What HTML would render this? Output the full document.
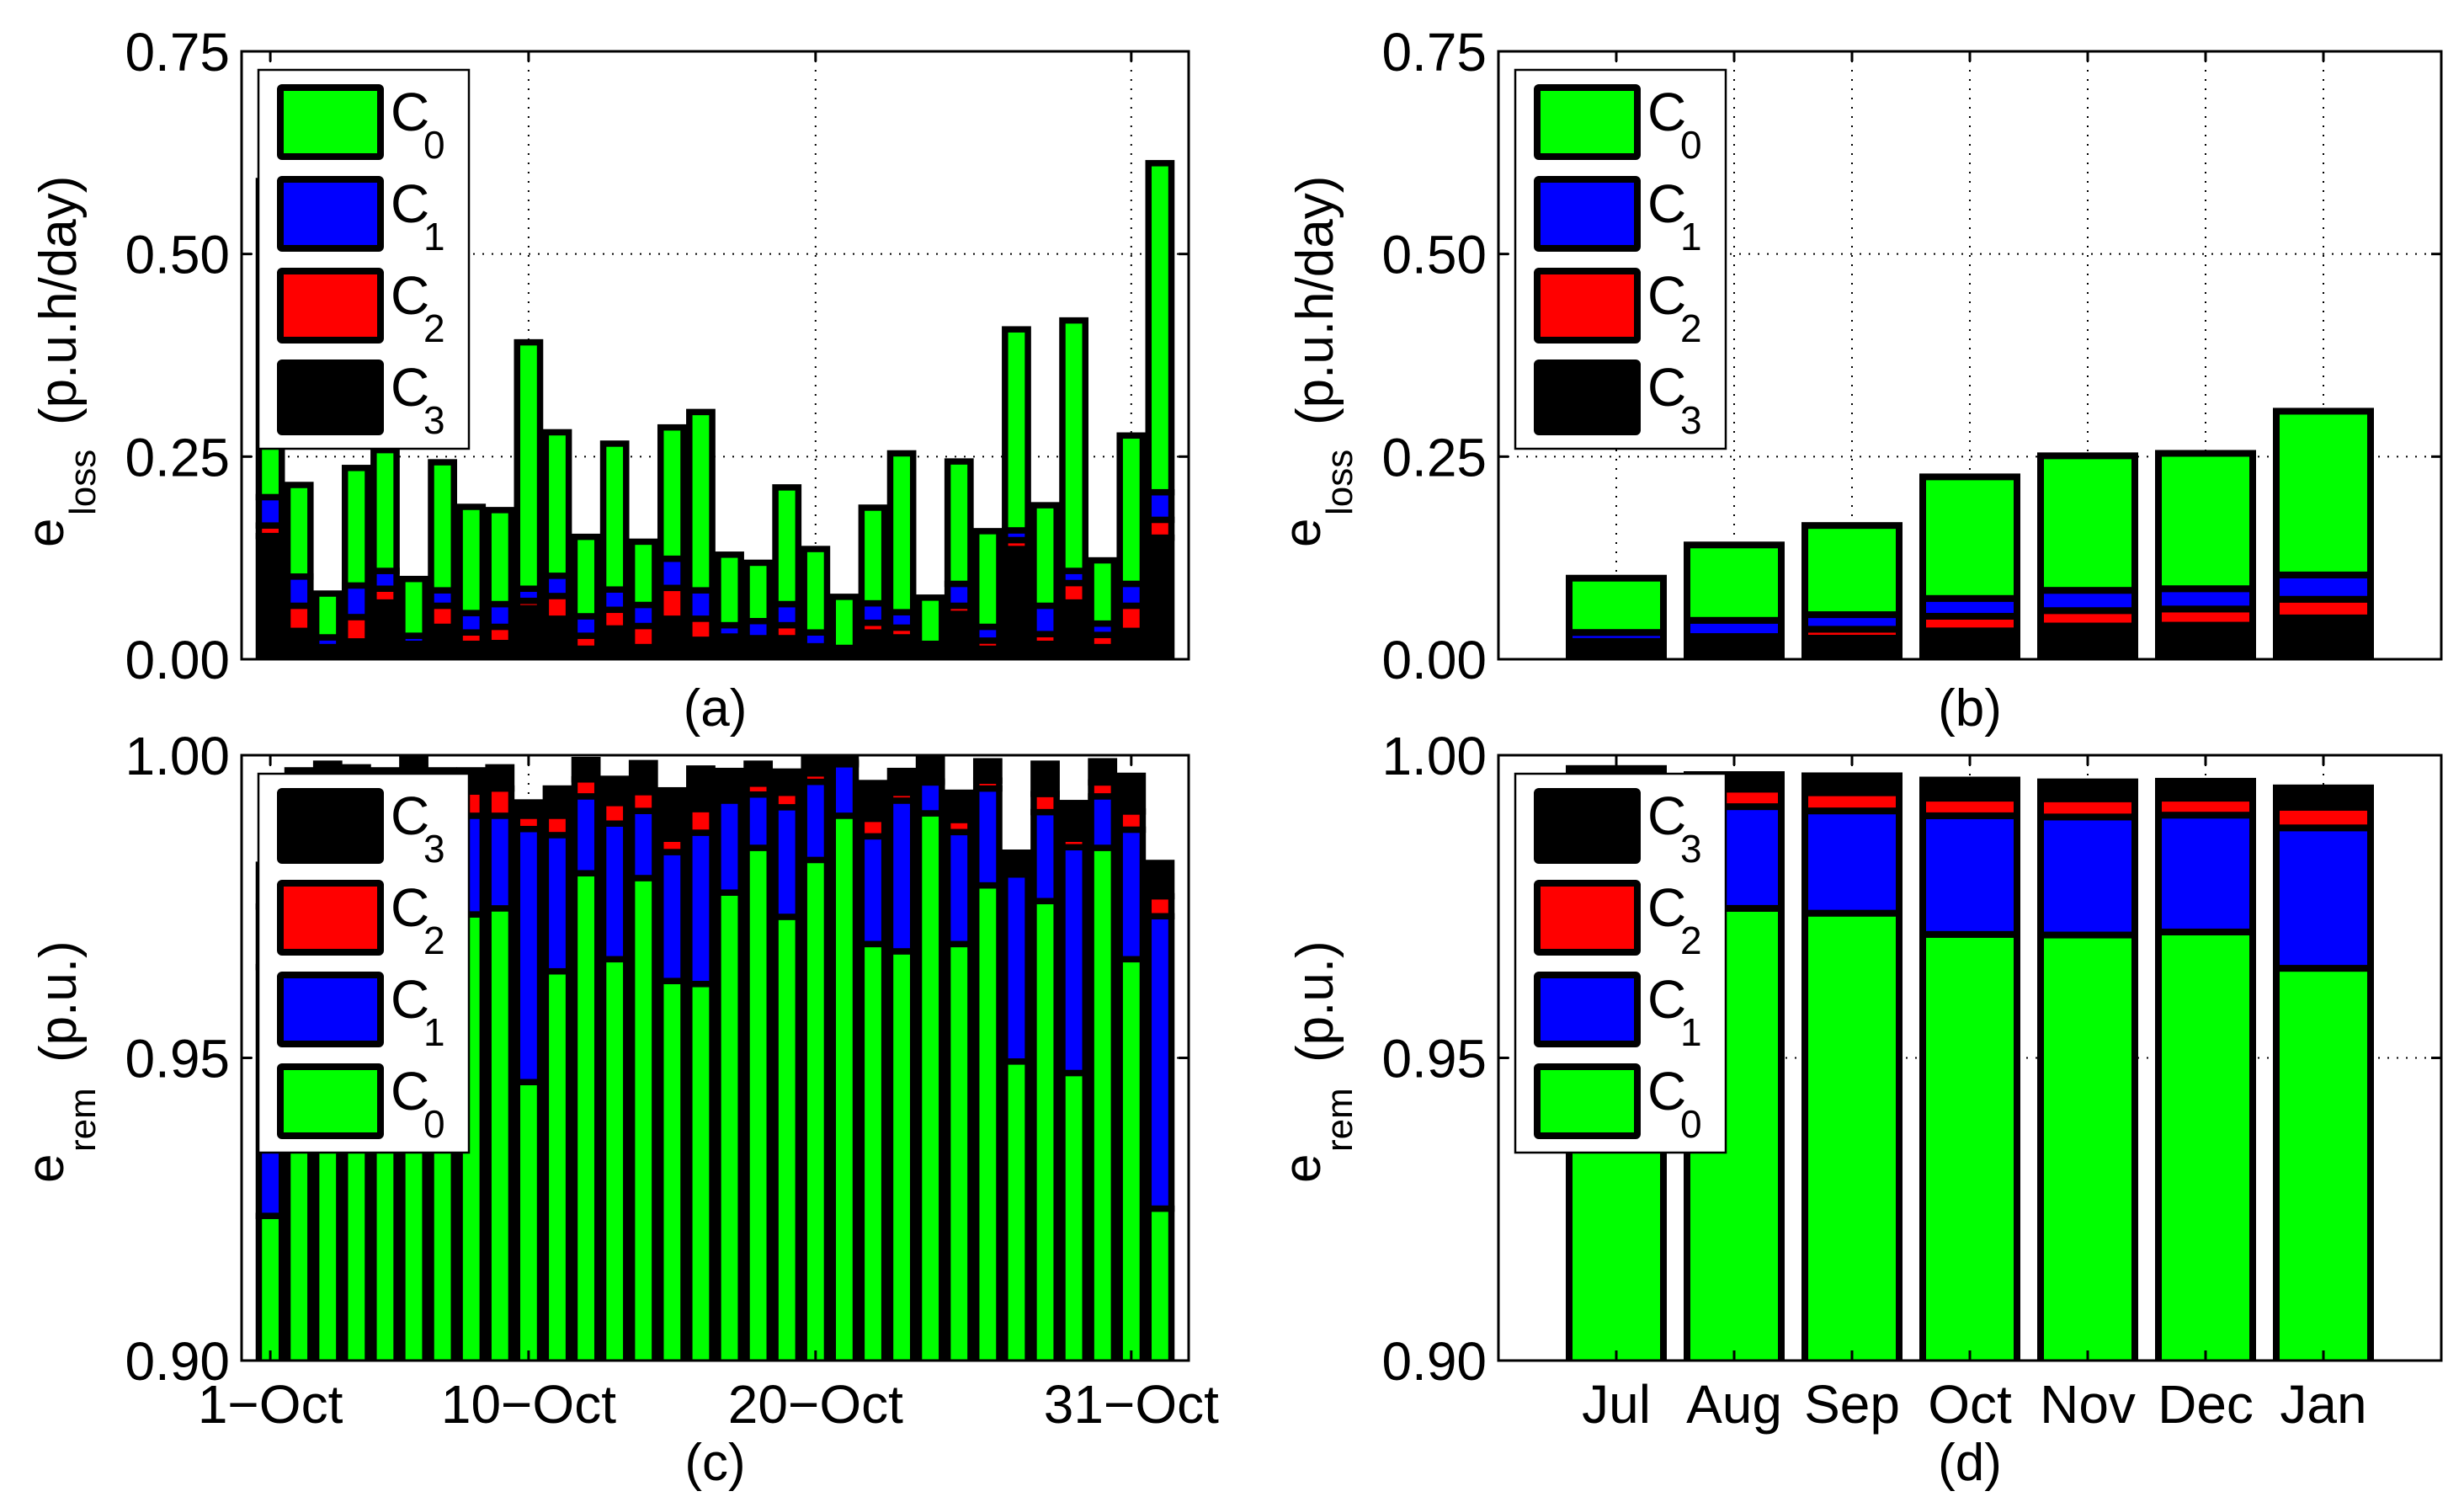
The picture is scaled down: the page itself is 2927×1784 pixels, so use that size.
<!DOCTYPE html>
<html><head><meta charset="utf-8"><style>
html,body{margin:0;padding:0;background:#fff;width:2927px;height:1784px;overflow:hidden;}
svg{display:block;font-family:"Liberation Sans",Arial,sans-serif;}
</style></head><body>
<svg id="fig" width="2927" height="1784" viewBox="0 0 2927 1784" xmlns="http://www.w3.org/2000/svg">
<rect x="0" y="0" width="2927" height="1784" fill="#fff"/>
</svg>
<script>
// ---------- Panel (a) daily energy loss, cumulative stack tops (C3, C3+C2, C3+C2+C1, total) ----------
const aTopC3 = [0.152,0.035,0.014,0.022,0.070,0.018,0.040,0.019,0.020,0.063,0.050,0.013,0.038,0.015,0.050,0.024,0.022,0.020,0.026,0.016,0.014,0.033,0.027,0.019,0.056,0.013,0.136,0.019,0.070,0.015,0.035,0.150];
const aTopC2 = [0.165,0.066,0.015,0.052,0.087,0.019,0.066,0.033,0.040,0.072,0.078,0.029,0.061,0.041,0.088,0.050,0.028,0.026,0.042,0.016,0.014,0.045,0.039,0.019,0.066,0.023,0.147,0.031,0.094,0.030,0.066,0.172];
const aTopC1 = [0.200,0.102,0.027,0.091,0.109,0.029,0.085,0.057,0.068,0.087,0.103,0.053,0.086,0.067,0.124,0.085,0.042,0.047,0.068,0.033,0.014,0.069,0.058,0.019,0.093,0.040,0.159,0.066,0.109,0.044,0.093,0.206];
const aTotal = [0.590,0.215,0.081,0.236,0.258,0.099,0.243,0.188,0.184,0.391,0.280,0.151,0.266,0.145,0.286,0.305,0.129,0.119,0.212,0.136,0.077,0.187,0.254,0.076,0.244,0.158,0.407,0.190,0.418,0.122,0.276,0.612];
// ---------- Panel (b) monthly energy loss ----------
const months = ["Jul","Aug","Sep","Oct","Nov","Dec","Jan"];
const bTopC3 = [0.022,0.025,0.026,0.035,0.041,0.042,0.051];
const bTopC2 = [0.022,0.028,0.037,0.053,0.060,0.062,0.074];
const bTopC1 = [0.033,0.048,0.055,0.075,0.085,0.087,0.104];
const bTotal = [0.100,0.141,0.165,0.225,0.251,0.254,0.306];
// ---------- Panel (c) daily remaining energy, cumulative tops (C0, C0+C1, C0+C1+C2, total) ----------
const cTopC0 = [0.9239,0.968,0.970,0.966,0.972,0.969,0.971,0.9737,0.9747,0.9460,0.9643,0.9805,0.9663,0.9797,0.9627,0.9622,0.9773,0.9847,0.9733,0.9827,0.9900,0.9688,0.9676,0.9904,0.9688,0.9785,0.9494,0.9759,0.9475,0.9847,0.9663,0.9251];
const cTopC1 = [0.9650,0.990,0.991,0.990,0.992,0.990,0.991,0.9900,0.9900,0.9878,0.9868,0.9932,0.9887,0.9908,0.9840,0.9872,0.9925,0.9935,0.9914,0.9956,0.9985,0.9866,0.9925,0.9955,0.9873,0.9945,0.9803,0.9906,0.9848,0.9932,0.9877,0.9734];
const cTopC2 = [0.9750,0.993,0.994,0.993,0.995,0.994,0.995,0.9940,0.9945,0.9900,0.9900,0.9960,0.9921,0.9939,0.9862,0.9911,0.9935,0.9953,0.9938,0.9970,0.9988,0.9895,0.9938,0.9957,0.9893,0.9958,0.9813,0.9936,0.9862,0.9955,0.9907,0.9767];
const cTotal = [0.9819,0.9975,0.9986,0.9980,0.9975,0.9994,0.9975,0.9975,0.9980,0.9922,0.9945,0.9992,0.9961,0.9987,0.9942,0.9978,0.9974,0.9986,0.9973,0.9996,1.0000,0.9954,0.9974,0.9998,0.9938,0.9990,0.9839,0.9986,0.9921,0.9990,0.9966,0.9822];
// ---------- Panel (d) monthly remaining energy ----------
const dTopC0 = [0.9750,0.9747,0.9739,0.9704,0.9703,0.9708,0.9648];
const dTopC1 = [0.9920,0.9915,0.9908,0.9900,0.9898,0.9901,0.9880];
const dTopC2 = [0.9945,0.9944,0.9938,0.9929,0.9928,0.9929,0.9914];
const dTotal = [0.9978,0.9968,0.9966,0.9959,0.9956,0.9957,0.9946];
// tick labels
const lossTicks = [0, 0.25, 0.5, 0.75];
const lossTickLabels = ["0.00","0.25","0.50","0.75"];
const remTicks = [0.90, 0.95, 1.00];
const remTickLabels = ["0.90","0.95","1.00"];
const dayTicks = [1, 10, 20, 31];
const dayTickLabels = ["1\u2212Oct","10\u2212Oct","20\u2212Oct","31\u2212Oct"];

const NS = "http://www.w3.org/2000/svg";
const svg = document.getElementById("fig");
function mk(tag, attrs, parent){
  const e = document.createElementNS(NS, tag);
  for (const k in attrs) e.setAttribute(k, attrs[k]);
  (parent||svg).appendChild(e);
  return e;
}
const GREEN="#00ff00", BLUE="#0000ff", RED="#ff0000", BLACK="#000000";

function panel(cfg){
  const g = mk("g", {});
  
  
  const sx = v => cfg.x0 + (v - cfg.xmin) / (cfg.xmax - cfg.xmin) * (cfg.x1 - cfg.x0);
  const sy = v => cfg.y1 - (v - cfg.ymin) / (cfg.ymax - cfg.ymin) * (cfg.y1 - cfg.y0);
  const cid = "clip-" + cfg.name;
  const cp = mk("clipPath", {id: cid}, g);
  mk("rect", {x: cfg.x0, y: cfg.y0, width: cfg.x1 - cfg.x0, height: cfg.y1 - cfg.y0}, cp);
  const grid = mk("g", {stroke:"#000", "stroke-width":2, "stroke-dasharray":"2,9"}, g);
  
  
  cfg.xticks.forEach(t => { mk("line", {x1:sx(t), x2:sx(t), y1:cfg.y0, y2:cfg.y1}, grid); });
  cfg.yticks.forEach(t => { if (t>cfg.ymin && t<cfg.ymax) mk("line", {x1:cfg.x0, x2:cfg.x1, y1:sy(t), y2:sy(t)}, grid); });
  const bars = mk("g", {"clip-path": "url(#"+cid+")"}, g);
  
  
  const n = cfg.stacks[0].length;
  for (let i=0;i<n;i++){
    const xc = sx(cfg.pos(i));
    const w = (sx(cfg.barW) - sx(0));
    let prev = cfg.base;
    for (let s=0;s<cfg.stacks.length;s++){
      const top = cfg.stacks[s][i];
      const r = mk("rect", {x: xc - w/2, y: sy(Math.max(top,prev)), width: w, height: Math.max(0, sy(prev) - sy(top)), fill: cfg.colors[s], stroke:"#000", "stroke-width": cfg.sw}, bars);
      
      
      prev = top;
    }
  }
  const box = mk("rect", {x: cfg.x0, y: cfg.y0, width: cfg.x1-cfg.x0, height: cfg.y1-cfg.y0, fill:"none", stroke:"#000", "stroke-width":3}, g);
  
  
  const tk = mk("g", {stroke:"#000", "stroke-width":3}, g);
  cfg.xticks.forEach(t => {
    mk("line", {x1:sx(t), x2:sx(t), y1:cfg.y1, y2:cfg.y1-12}, tk);
    mk("line", {x1:sx(t), x2:sx(t), y1:cfg.y0, y2:cfg.y0+12}, tk);
  });
  cfg.yticks.forEach(t => {
    mk("line", {x1:cfg.x0, x2:cfg.x0+12, y1:sy(t), y2:sy(t)}, tk);
    mk("line", {x1:cfg.x1, x2:cfg.x1-12, y1:sy(t), y2:sy(t)}, tk);
  });
  cfg.yticks.forEach((t,k) => {
    const tx = mk("text", {x: cfg.x0 - 14, y: sy(t) + 23, "font-size": 64, "text-anchor":"end"}, g);
    tx.textContent = cfg.ytickLabels[k];
    
    
  });
  cfg.xtickLabels.forEach((lab,k) => {
    const tx = mk("text", {x: sx(cfg.xtickPos[k]), y: cfg.y1 + 74, "font-size": 64, "text-anchor":"middle"}, g);
    tx.textContent = lab;
    
    
  });
  const cap = mk("text", {x: (cfg.x0+cfg.x1)/2, y: cfg.capY, "font-size": 62, "text-anchor":"middle"}, g);
  cap.textContent = cfg.caption;
  
  
  const yl = mk("g", {}, g);
  
  
  const lx = cfg.x0 - 212;
  const e1 = mk("text", {transform:"translate("+lx+","+cfg.lab.e+") rotate(-90)", "font-size":62}, yl); e1.textContent = "e";
  const e2 = mk("text", {transform:"translate("+(lx+38)+","+cfg.lab.sub+") rotate(-90)", "font-size":44}, yl); e2.textContent = cfg.lab.subText;
  const e3 = mk("text", {transform:"translate("+(lx+15)+","+cfg.lab.unit+") rotate(-90)", "font-size":62}, yl); e3.textContent = cfg.lab.unitText;
  const lg = mk("g", {}, g);
  
  
  const lx0 = cfg.x0 + 20, ly0 = cfg.y0 + 22;
  mk("rect", {x: lx0, y: ly0, width: 250, height: 450, fill:"#fff", stroke:"#000", "stroke-width":2.5}, lg);
  cfg.legend.forEach((it, k) => {
    const rc = ly0 + 62 + k*109;
    const ent = mk("g", {}, lg);
    
    
    mk("rect", {x: lx0+26, y: rc-41, width: 119, height: 82, fill: it.color, stroke:"#000", "stroke-width":8, rx:2}, ent);
    const t = mk("text", {x: lx0+157, y: rc+10, "font-size":64}, ent); t.textContent = "C";
    const s = mk("text", {x: lx0+196, y: rc+43, "font-size":46}, ent); s.textContent = it.sub;
  });
}

const dayIdx = i => i + 1;
const mIdx = i => i + 1;
const legLoss = [{color:GREEN,sub:"0"},{color:BLUE,sub:"1"},{color:RED,sub:"2"},{color:BLACK,sub:"3"}];
const legRem = [{color:BLACK,sub:"3"},{color:RED,sub:"2"},{color:BLUE,sub:"1"},{color:GREEN,sub:"0"}];

panel({name:"panel-a", x0:287, x1:1412, y0:61, y1:783, xmin:0, xmax:33, ymin:0, ymax:0.75,
  xticks: dayTicks, yticks: lossTicks, ytickLabels: lossTickLabels, xtickLabels: [], xtickPos: [],
  stacks:[aTopC3,aTopC2,aTopC1,aTotal], colors:[BLACK,RED,BLUE,GREEN], seriesNames:["c3","c2","c1","c0"],
  base:0, pos: dayIdx, barW:0.8, sw:7.5, caption:"(a)", capY:862,
  lab:{e:650, sub:612, unit:505, subText:"loss", unitText:"(p.u.h/day)"}, legend: legLoss});
panel({name:"panel-b", x0:1780, x1:2900, y0:61, y1:783, xmin:0, xmax:8, ymin:0, ymax:0.75,
  xticks: [1,2,3,4,5,6,7], yticks: lossTicks, ytickLabels: lossTickLabels, xtickLabels: [], xtickPos: [],
  stacks:[bTopC3,bTopC2,bTopC1,bTotal], colors:[BLACK,RED,BLUE,GREEN], seriesNames:["c3","c2","c1","c0"],
  base:0, pos: mIdx, barW:0.8, sw:8, caption:"(b)", capY:862,
  lab:{e:650, sub:612, unit:505, subText:"loss", unitText:"(p.u.h/day)"}, legend: legLoss});
panel({name:"panel-c", x0:287, x1:1412, y0:897, y1:1616, xmin:0, xmax:33, ymin:0.9, ymax:1.0,
  xticks: dayTicks, yticks: remTicks, ytickLabels: remTickLabels, xtickLabels: dayTickLabels, xtickPos: dayTicks,
  stacks:[cTopC0,cTopC1,cTopC2,cTotal], colors:[GREEN,BLUE,RED,BLACK], seriesNames:["c0","c1","c2","c3"],
  base:0.898, pos: dayIdx, barW:0.8, sw:7.5, caption:"(c)", capY:1758,
  lab:{e:1405, sub:1368, unit:1262, subText:"rem", unitText:"(p.u.)"}, legend: legRem});
panel({name:"panel-d", x0:1780, x1:2900, y0:897, y1:1616, xmin:0, xmax:8, ymin:0.9, ymax:1.0,
  xticks: [1,2,3,4,5,6,7], yticks: remTicks, ytickLabels: remTickLabels, xtickLabels: months, xtickPos: [1,2,3,4,5,6,7],
  stacks:[dTopC0,dTopC1,dTopC2,dTotal], colors:[GREEN,BLUE,RED,BLACK], seriesNames:["c0","c1","c2","c3"],
  base:0.898, pos: mIdx, barW:0.8, sw:8, caption:"(d)", capY:1758,
  lab:{e:1405, sub:1368, unit:1262, subText:"rem", unitText:"(p.u.)"}, legend: legRem});
</script>
</body></html>
